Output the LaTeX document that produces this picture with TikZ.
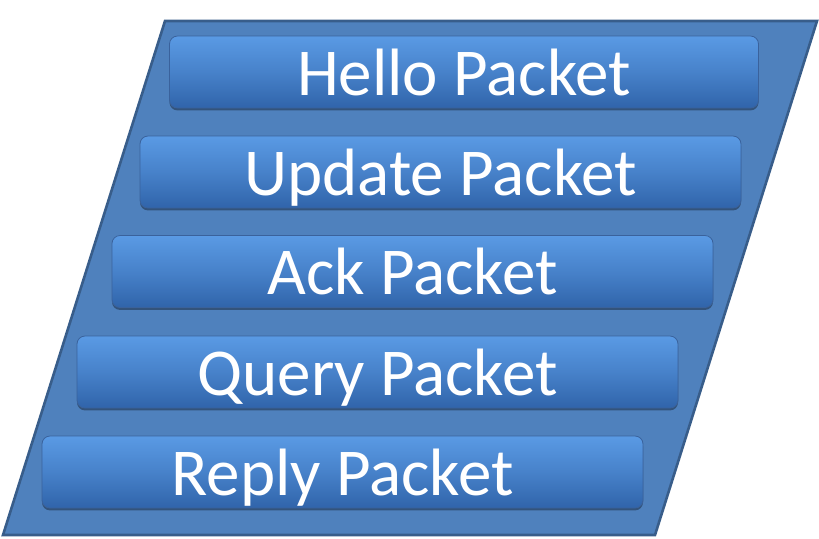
\documentclass[tikz,border=0pt]{standalone}
\usepackage{fontspec}
\setmainfont{Carlito}
\usetikzlibrary{shadows}
\definecolor{frameblue}{RGB}{79,129,189}
\definecolor{edgeblue}{RGB}{56,93,138}
\definecolor{bartop}{RGB}{90,154,228}
\definecolor{barbot}{RGB}{48,100,170}
\definecolor{baredge}{RGB}{58,98,156}
\begin{document}
\begin{tikzpicture}[x=0.5pt,y=-0.5pt,
    frame/.style={fill=frameblue,draw=edgeblue,line width=1.3pt,line join=miter},
    packet/.style={rectangle,rounded corners=4pt,minimum width=300.5pt,minimum height=36pt,
        inner sep=2pt,text height=25pt,text depth=2pt,
        top color=bartop,bottom color=barbot,middle color=bartop!55!barbot,
        draw=baredge,line width=0.4pt,text=white,
        font=\fontsize{33.5}{38}\selectfont,
        drop shadow={shadow xshift=0pt,shadow yshift=-1.2pt,fill=black,opacity=0.35}}]
    \useasboundingbox (0,0) rectangle (819,538);
    \draw[frame] (165,21) -- (817,21) -- (655,535) -- (3,535) -- cycle;
    \node[packet,minimum width=294.5pt] (hello) at (464,72) {Hello Packet};
    \node[packet] (update) at (440.5,172) {Update Packet};
    \node[packet] (ack) at (412.5,271.5) {Ack Packet};
    \node[packet] (query) at (377.5,372) {Query Packet};
    \node[packet] (reply) at (342.5,472) {Reply Packet};
\end{tikzpicture}
\end{document}
